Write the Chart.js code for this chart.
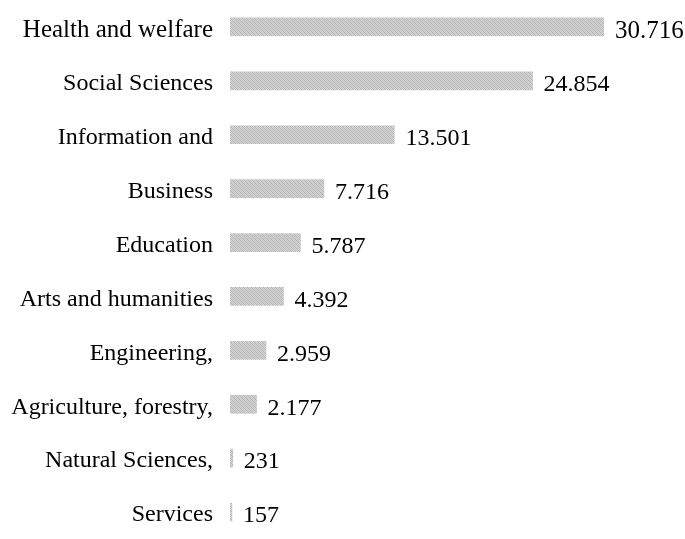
<!DOCTYPE html>
<html>
<head>
<meta charset="utf-8">
<script src="https://cdn.jsdelivr.net/npm/chart.js@4/dist/chart.umd.min.js"></script>
<style>
  html, body { margin: 0; padding: 0; background: #fff; }
  #wrap { width: 685px; height: 539px; }
</style>
</head>
<body>
<div id="wrap"><canvas id="chart" width="685" height="539"></canvas></div>
<script>
const categories = [
  "Health and welfare",
  "Social Sciences",
  "Information and",
  "Business",
  "Education",
  "Arts and humanities",
  "Engineering,",
  "Agriculture, forestry,",
  "Natural Sciences,",
  "Services"
];
const graduates = [30716, 24854, 13501, 7716, 5787, 4392, 2959, 2177, 231, 157];

// thousands with a dot, like the source
function formatNumber(n) {
  return String(n).replace(/\B(?=(\d{3})+(?!\d))/g, ".");
}

function makeHatch() {
  const c = document.createElement("canvas");
  c.width = 4;
  c.height = 4;
  const ctx = c.getContext("2d");
  ctx.fillStyle = "#d6d6d6";
  ctx.fillRect(0, 0, 4, 4);
  ctx.fillStyle = "#b0b0b0";
  for (let i = 0; i < 4; i++) {
    ctx.fillRect(i, i, 1, 1);
  }
  ctx.fillStyle = "#c4c4c4";
  for (let i = 0; i < 4; i++) {
    ctx.fillRect((i + 2) % 4, i, 1, 1);
  }
  return ctx.createPattern(c, "repeat");
}

// first row is set a little larger in the source
function rowSize(i) {
  return i === 0 ? 25 : 24;
}

const valueLabels = {
  id: "valueLabels",
  afterDatasetsDraw(chart) {
    const ctx = chart.ctx;
    const meta = chart.getDatasetMeta(0);
    ctx.save();
    ctx.fillStyle = "#000";
    ctx.textBaseline = "middle";
    ctx.textAlign = "left";
    meta.data.forEach((bar, i) => {
      ctx.font = rowSize(i) + "px 'Liberation Serif', 'Times New Roman', serif";
      ctx.fillText(formatNumber(graduates[i]), bar.x + 11, bar.y + 4);
    });
    ctx.restore();
  }
};

const hatch = makeHatch();

new Chart(document.getElementById("chart"), {
  type: "bar",
  data: {
    labels: categories,
    datasets: [{
      data: graduates,
      backgroundColor: hatch,
      borderWidth: 0,
      barThickness: 18
    }]
  },
  options: {
    indexAxis: "y",
    responsive: false,
    devicePixelRatio: 1,
    animation: false,
    layout: { padding: { top: 0, bottom: 0, left: 0, right: 81 } },
    plugins: {
      legend: { display: false },
      tooltip: { enabled: false }
    },
    scales: {
      x: {
        display: false,
        min: 0,
        max: 30716
      },
      y: {
        afterFit(scale) {
          scale.width = 230;
          scale.paddingTop = 0;
          scale.paddingBottom = 0;
        },
        grid: { display: false, drawTicks: false },
        border: { display: false },
        ticks: {
          padding: 17,
          labelOffset: 3,
          color: "#000",
          font: (ctx) => ({
            family: "'Liberation Serif', 'Times New Roman', serif",
            size: rowSize(ctx.index)
          })
        }
      }
    }
  },
  plugins: [valueLabels]
});
</script>
</body>
</html>
